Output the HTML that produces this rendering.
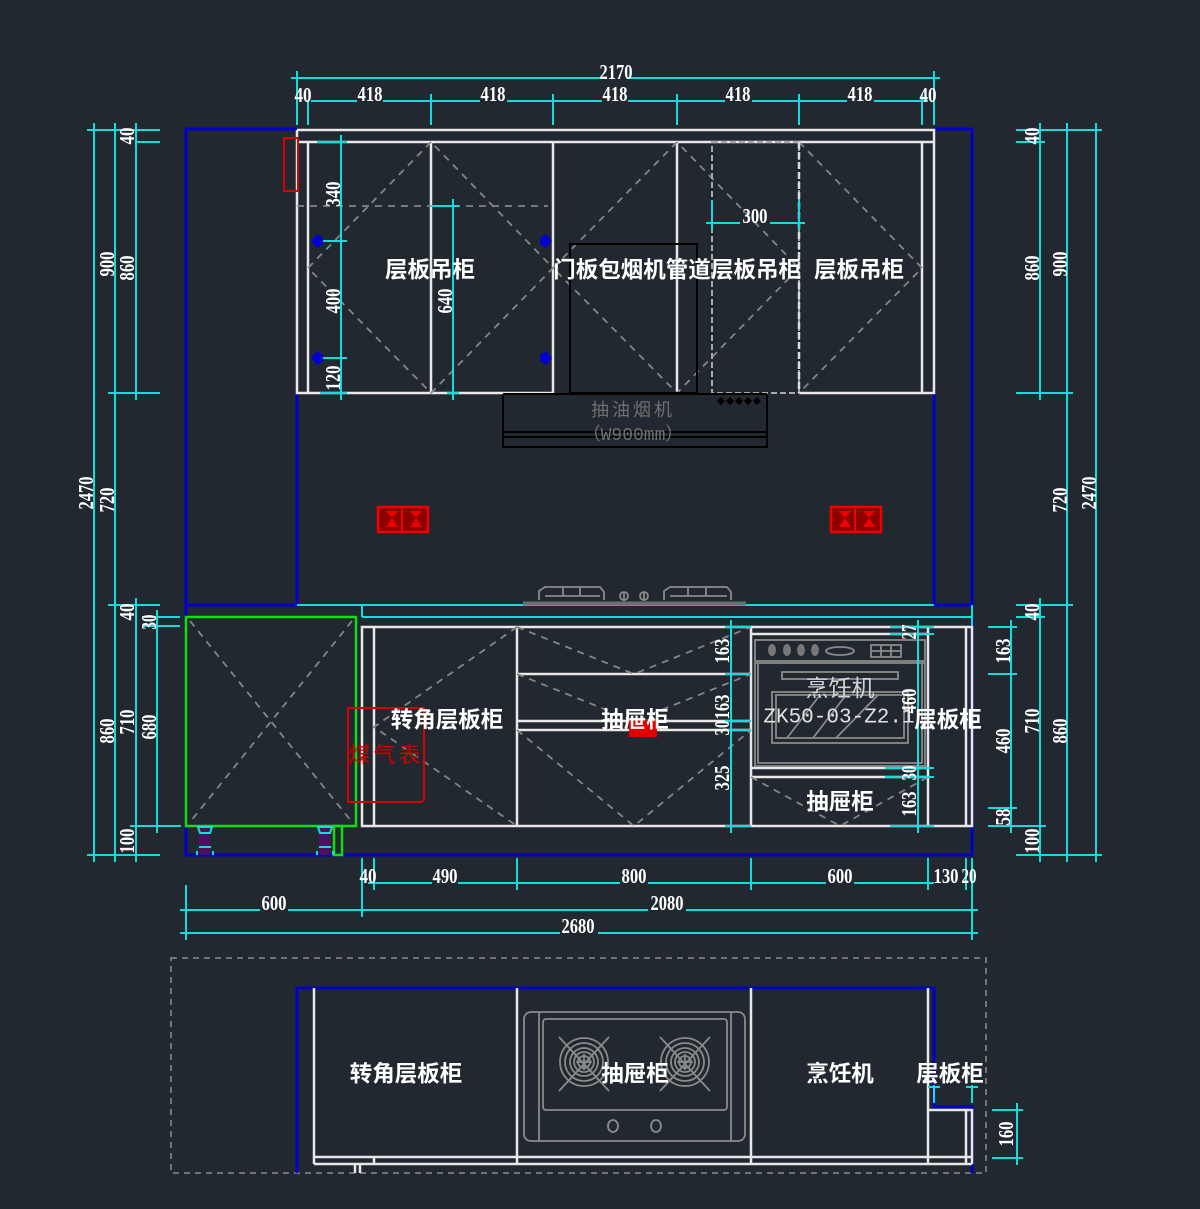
<!DOCTYPE html>
<html><head><meta charset="utf-8"><style>
html,body{margin:0;padding:0;background:#212830}
svg{display:block}
.c{stroke:#12dcdc;stroke-width:2;fill:none}
.w{stroke:#e8e8e8;stroke-width:2.5;fill:none}
.b{stroke:#0000c8;stroke-width:3;fill:none}
.g{stroke:#12dc12;stroke-width:2.5;fill:none}
.r{stroke:#d80000;stroke-width:2;fill:none}
.k{stroke:#000;stroke-width:2;fill:none}
.da{stroke:#858585;stroke-width:1.8;fill:none;stroke-dasharray:7 6}
.gy{stroke:#8a8a8a;stroke-width:1.8;fill:none}
text{text-anchor:middle;dominant-baseline:central}
.d{font:bold 21px "Liberation Serif",serif;fill:#fff}
.t{font:bold 22.5px "Liberation Sans","Noto Sans CJK SC",sans-serif;fill:#fff}
</style></head><body>
<svg width="1200" height="1209" viewBox="0 0 1200 1209" xmlns="http://www.w3.org/2000/svg">
<defs><path id="t" d="M-6 0H6M0-7V7" stroke="#12dcdc" stroke-width="2" fill="none"/></defs>
<rect width="1200" height="1209" fill="#212830"/>

<!-- blue walls -->
<path class="b" d="M297 129H186V605H297V393M934 393V605H972V129H934M186 605V617M186 826V855H972V617"/>

<!-- top dimensions -->
<path class="c" d="M293 78H603M628 78H938M297 72V125M308 100V125M934 72V125M922 100V125M431 96V125M553 96V125M677 96V125M799 96V125
M311 101H357M383 101H480M507 101H602M628 101H725M752 101H847M874 101H920"/>
<use href="#t" x="297" y="78"/><use href="#t" x="934" y="78"/><use href="#t" x="431" y="101"/><use href="#t" x="553" y="101"/><use href="#t" x="677" y="101"/><use href="#t" x="799" y="101"/><use href="#t" x="922" y="101"/>
<text class="d" textLength="33" lengthAdjust="spacingAndGlyphs" x="616" y="72">2170</text><text class="d" textLength="17" lengthAdjust="spacingAndGlyphs" x="303" y="95">40</text><text class="d" textLength="25" lengthAdjust="spacingAndGlyphs" x="370" y="94">418</text><text class="d" textLength="25" lengthAdjust="spacingAndGlyphs" x="493" y="94">418</text><text class="d" textLength="25" lengthAdjust="spacingAndGlyphs" x="615" y="94">418</text><text class="d" textLength="25" lengthAdjust="spacingAndGlyphs" x="738" y="94">418</text><text class="d" textLength="25" lengthAdjust="spacingAndGlyphs" x="860" y="94">418</text><text class="d" textLength="17" lengthAdjust="spacingAndGlyphs" x="928" y="95">40</text>

<!-- upper cabinets -->
<path class="w" d="M297 130H934V393H799M297 142H934M297 130V393H553V142M308 142V393M431 142V393M677 142V393M922 142V393"/>
<path class="da" d="M431 142L308 268L431 393L553 268L431 142M677 142L553 268L677 393L799 268L677 142M799 142L922 268L799 393M297 206H548"/>
<rect x="570" y="244" width="127" height="149" class="k"/>
<path d="M712 142H799V393H712Z" fill="none" stroke="#a8a8a8" stroke-width="2" stroke-dasharray="6 3"/>
<path d="M799 142V393" stroke="#dcdcdc" stroke-width="2.5" stroke-dasharray="7 3"/>
<rect x="284" y="138" width="14" height="53" class="r"/>

<!-- hood -->
<path class="k" d="M503 394V447H767V394M503 394H767M503 432H767M503 437H767"/>
<path d="M717 401l4-4 4 4-4 4zM726 401l4-4 4 4-4 4zM735 401l4-4 4 4-4 4zM744 401l4-4 4 4-4 4zM753 401l4-4 4 4-4 4z" fill="#000"/>
<text x="633" y="410" style="font:18px 'Liberation Sans','Noto Sans CJK SC',sans-serif;fill:#6f6f6f;letter-spacing:3px">抽油烟机</text>
<text x="633" y="436" style="font:18px 'Liberation Mono','Noto Sans CJK SC',monospace;fill:#6f6f6f">（W900mm）</text>

<!-- inner upper dims -->
<path class="c" d="M341 136V400M317 142H347M312 241H347M312 358H347M320 393H347M453 200V400M431 206H458M712 200V228M799 200V228M706 223H740M770 223H805"/>
<use href="#t" x="341" y="142"/><use href="#t" x="341" y="241"/><use href="#t" x="341" y="358"/><use href="#t" x="341" y="393"/><use href="#t" x="453" y="206"/><use href="#t" x="453" y="393"/><use href="#t" x="712" y="223"/><use href="#t" x="799" y="223"/>
<text class="d" textLength="25" lengthAdjust="spacingAndGlyphs" transform="rotate(-90 333 194)" x="333" y="194">340</text>
<text class="d" textLength="25" lengthAdjust="spacingAndGlyphs" transform="rotate(-90 333 301)" x="333" y="301">400</text>
<text class="d" textLength="25" lengthAdjust="spacingAndGlyphs" transform="rotate(-90 333 378)" x="333" y="378">120</text>
<text class="d" textLength="25" lengthAdjust="spacingAndGlyphs" transform="rotate(-90 445 301)" x="445" y="301">640</text>
<text class="d" textLength="25" lengthAdjust="spacingAndGlyphs" x="755" y="216">300</text>
<g fill="#0000d0"><path d="M311 241L317 234L323 238V244L317 248Z"/><path d="M311 358L317 351L323 355V361L317 365Z"/><path d="M552 241L546 234L540 238V244L546 248Z"/><path d="M552 358L546 351L540 355V361L546 365Z"/></g>

<text class="t" x="430" y="270">层板吊柜</text>
<text class="t" x="632" y="270">门板包烟机管道</text>
<text class="t" x="756" y="270">层板吊柜</text>
<text class="t" x="859" y="270">层板吊柜</text>

<!-- sockets -->
<g>
<rect x="378" y="507" width="50" height="25" fill="#8c0000" stroke="#f00000" stroke-width="2.5"/>
<path d="M402 507V532" stroke="#f00000" stroke-width="2"/>
<path d="M386 511H398L392 518L398 527H386L392 518ZM410 511H422L416 518L422 527H410L416 518Z" fill="#ee0000"/>
<rect x="831" y="507" width="50" height="25" fill="#8c0000" stroke="#f00000" stroke-width="2.5"/>
<path d="M855 507V532" stroke="#f00000" stroke-width="2"/>
<path d="M839 511H851L845 518L851 527H839L845 518ZM863 511H875L869 518L875 527H863L869 518Z" fill="#ee0000"/>
</g>

<!-- cyan counter -->
<path class="c" d="M297 605H934M362 617H972M362 605V617M972 605V626"/>
<!-- stove front view -->
<path d="M523 603.5H746" stroke="#6e6e6e" stroke-width="4"/>
<path class="gy" d="M539 600V591L545 587H600L604 592V600M545 596H600M563 596V588M580 596V588M664 600V591L670 587H727L731 592V600M670 596H727M688 596V588M706 596V588M624 601V592M644 601V592"/>
<circle cx="624" cy="596" r="4" class="gy"/><circle cx="644" cy="596" r="4" class="gy"/>

<!-- left dims -->
<path class="c" d="M94 124V858M115 124V858M136 126V393M136 605V858M157 612V832M87 130H160M136 142H160M108 393H160M108 605H160M142 617H180M142 626H180M130 826H181M87 855H160"/>
<use href="#t" x="94" y="130"/><use href="#t" x="115" y="130"/><use href="#t" x="136" y="130"/><use href="#t" x="115" y="393"/><use href="#t" x="136" y="393"/><use href="#t" x="115" y="605"/><use href="#t" x="136" y="605"/><use href="#t" x="157" y="617"/><use href="#t" x="157" y="626"/><use href="#t" x="136" y="826"/><use href="#t" x="157" y="826"/><use href="#t" x="94" y="855"/><use href="#t" x="115" y="855"/><use href="#t" x="136" y="855"/>
<text class="d" textLength="33" lengthAdjust="spacingAndGlyphs" transform="rotate(-90 86 493)" x="86" y="493">2470</text>
<text class="d" textLength="25" lengthAdjust="spacingAndGlyphs" transform="rotate(-90 107 264)" x="107" y="264">900</text>
<text class="d" textLength="25" lengthAdjust="spacingAndGlyphs" transform="rotate(-90 127 268)" x="127" y="268">860</text>
<text class="d" textLength="17" lengthAdjust="spacingAndGlyphs" transform="rotate(-90 127 136)" x="127" y="136">40</text>
<text class="d" textLength="25" lengthAdjust="spacingAndGlyphs" transform="rotate(-90 107 500)" x="107" y="500">720</text>
<text class="d" textLength="17" lengthAdjust="spacingAndGlyphs" transform="rotate(-90 127 612)" x="127" y="612">40</text>
<text class="d" textLength="15" lengthAdjust="spacingAndGlyphs" transform="rotate(-90 149 622)" x="149" y="622">30</text>
<text class="d" textLength="25" lengthAdjust="spacingAndGlyphs" transform="rotate(-90 107 731)" x="107" y="731">860</text>
<text class="d" textLength="25" lengthAdjust="spacingAndGlyphs" transform="rotate(-90 127 722)" x="127" y="722">710</text>
<text class="d" textLength="25" lengthAdjust="spacingAndGlyphs" transform="rotate(-90 149 727)" x="149" y="727">680</text>
<text class="d" textLength="25" lengthAdjust="spacingAndGlyphs" transform="rotate(-90 127 841)" x="127" y="841">100</text>

<!-- right dims -->
<path class="c" d="M1040 126V393M1040 605V858M1067 124V858M1096 124V858M1011 621V832M1016 130H1100M1016 142H1045M1016 393H1072M1016 605H1072M1016 617H1045M988 627H1016M988 674H1016M988 808H1016M988 826H1045M1016 855H1100"/>
<use href="#t" x="1040" y="130"/><use href="#t" x="1067" y="130"/><use href="#t" x="1096" y="130"/><use href="#t" x="1040" y="393"/><use href="#t" x="1067" y="393"/><use href="#t" x="1067" y="605"/><use href="#t" x="1040" y="605"/><use href="#t" x="1011" y="627"/><use href="#t" x="1011" y="674"/><use href="#t" x="1011" y="808"/><use href="#t" x="1011" y="826"/><use href="#t" x="1040" y="826"/><use href="#t" x="1040" y="855"/><use href="#t" x="1067" y="855"/><use href="#t" x="1096" y="855"/>
<text class="d" textLength="17" lengthAdjust="spacingAndGlyphs" transform="rotate(-90 1032 136)" x="1032" y="136">40</text>
<text class="d" textLength="25" lengthAdjust="spacingAndGlyphs" transform="rotate(-90 1032 268)" x="1032" y="268">860</text>
<text class="d" textLength="25" lengthAdjust="spacingAndGlyphs" transform="rotate(-90 1060 264)" x="1060" y="264">900</text>
<text class="d" textLength="25" lengthAdjust="spacingAndGlyphs" transform="rotate(-90 1060 500)" x="1060" y="500">720</text>
<text class="d" textLength="33" lengthAdjust="spacingAndGlyphs" transform="rotate(-90 1089 493)" x="1089" y="493">2470</text>
<text class="d" textLength="17" lengthAdjust="spacingAndGlyphs" transform="rotate(-90 1032 612)" x="1032" y="612">40</text>
<text class="d" textLength="25" lengthAdjust="spacingAndGlyphs" transform="rotate(-90 1003 651)" x="1003" y="651">163</text>
<text class="d" textLength="25" lengthAdjust="spacingAndGlyphs" transform="rotate(-90 1003 741)" x="1003" y="741">460</text>
<text class="d" textLength="17" lengthAdjust="spacingAndGlyphs" transform="rotate(-90 1003 817)" x="1003" y="817">58</text>
<text class="d" textLength="25" lengthAdjust="spacingAndGlyphs" transform="rotate(-90 1032 721)" x="1032" y="721">710</text>
<text class="d" textLength="25" lengthAdjust="spacingAndGlyphs" transform="rotate(-90 1032 841)" x="1032" y="841">100</text>
<text class="d" textLength="25" lengthAdjust="spacingAndGlyphs" transform="rotate(-90 1060 731)" x="1060" y="731">860</text>

<!-- green cabinet -->
<rect x="186" y="617" width="170" height="209" class="g"/>
<rect x="334" y="826" width="8" height="29" class="g" stroke-width="2"/>
<path class="da" d="M190 621L352 822M352 621L190 822"/>
<!-- feet -->
<g>
<rect x="199" y="828" width="11" height="27" fill="#4b1060"/><path class="c" d="M197 827H213M198 827L200 833H210L212 827M199 847H211M197 855V851M213 855V851"/>
<rect x="319" y="828" width="11" height="27" fill="#4b1060"/><path class="c" d="M317 827H333M318 827L320 833H330L332 827M319 847H331M317 855V851M333 855V851"/>
</g>

<!-- lower cabinets -->
<path class="w" d="M362 627H972V826H362ZM374 627V826M517 627V826M751 627V826M928 627V826M966 627V826M517 674H751M517 721H751M517 730H751M751 634H928M751 768H928M751 777H928"/>
<path class="da" d="M517 627L374 727L517 826M517 627L634 674L751 627M517 674L634 721L751 674M517 730L634 826L751 730M751 777L840 826L928 777"/>

<!-- oven -->
<g class="gy">
<path d="M755 640H925V661H755ZM755 663H925V766H755ZM758 663V763H922V663"/>
<rect x="782" y="672" width="116" height="7"/>
<rect x="772" y="692" width="136" height="51"/>
<rect x="776" y="695" width="128" height="43"/>
<path d="M787 738L820 695M813 738L846 695M836 738L878 695"/>
<rect x="871" y="645" width="30" height="12"/><path d="M881 645V657M891 645V657M871 651H901"/>
<ellipse cx="840" cy="651" rx="14" ry="4"/>
</g>
<g fill="#777"><ellipse cx="772" cy="650" rx="4" ry="6"/><ellipse cx="787" cy="650" rx="4" ry="6"/><ellipse cx="801" cy="650" rx="4" ry="6"/><ellipse cx="815" cy="650" rx="4" ry="6"/></g>
<text x="840" y="688" style="font:23px 'Liberation Sans','Noto Sans CJK SC',sans-serif;fill:#d4d4d4">烹饪机</text>
<text x="839" y="718" style="font:21px 'Liberation Mono',monospace;fill:#e2e2e2">ZK50-03-Z2.1</text>

<!-- red bits -->
<rect x="629" y="720" width="28" height="17" fill="#e00000"/>
<path class="r" d="M348 708H424V798Q424 802 420 802H348Z"/>
<text x="386" y="755" style="font:22px 'Liberation Sans','Noto Sans CJK SC',sans-serif;fill:#c80000;letter-spacing:3px">煤气表</text>

<!-- middle dims in lower -->
<path class="c" d="M731 621V832M725 627H751M725 674H751M725 721H751M725 730H751M725 826H751M918 621V832M890 627H934M890 634H934M885 768H934M885 777H934M890 826H934"/>
<use href="#t" x="731" y="627"/><use href="#t" x="731" y="674"/><use href="#t" x="731" y="730"/><use href="#t" x="731" y="826"/><use href="#t" x="918" y="627"/><use href="#t" x="918" y="768"/><use href="#t" x="918" y="826"/>
<text class="d" textLength="25" lengthAdjust="spacingAndGlyphs" transform="rotate(-90 722 651)" x="722" y="651">163</text>
<text class="d" textLength="25" lengthAdjust="spacingAndGlyphs" transform="rotate(-90 722 707)" x="722" y="707">163</text>
<text class="d" textLength="15" lengthAdjust="spacingAndGlyphs" transform="rotate(-90 722 728)" x="722" y="728">30</text>
<text class="d" textLength="25" lengthAdjust="spacingAndGlyphs" transform="rotate(-90 722 778)" x="722" y="778">325</text>
<text class="d" textLength="15" lengthAdjust="spacingAndGlyphs" transform="rotate(-90 909 632)" x="909" y="632">27</text>
<text class="d" textLength="25" lengthAdjust="spacingAndGlyphs" transform="rotate(-90 909 701)" x="909" y="701">460</text>
<text class="d" textLength="15" lengthAdjust="spacingAndGlyphs" transform="rotate(-90 909 773)" x="909" y="773">30</text>
<text class="d" textLength="25" lengthAdjust="spacingAndGlyphs" transform="rotate(-90 909 804)" x="909" y="804">163</text>

<text class="t" x="447" y="720">转角层板柜</text>
<text class="t" x="635" y="720">抽屉柜</text>
<text class="t" x="948" y="720">层板柜</text>
<text class="t" x="840" y="802">抽屉柜</text>

<!-- bottom dims -->
<path class="c" d="M362 858V890M374 858V890M517 858V890M751 858V890M928 858V890M966 858V890M972 858V938M374 883H432M458 883H620M648 883H826M854 883H932M186 885V938M362 885V917M180 910H260M288 910H648M686 910H978M180 933H560M598 933H978"/>
<use href="#t" x="374" y="883"/><use href="#t" x="517" y="883"/><use href="#t" x="751" y="883"/><use href="#t" x="928" y="883"/><use href="#t" x="186" y="910"/><use href="#t" x="362" y="910"/><use href="#t" x="972" y="910"/><use href="#t" x="186" y="933"/><use href="#t" x="972" y="933"/>
<text class="d" textLength="17" lengthAdjust="spacingAndGlyphs" x="368" y="876">40</text><text class="d" textLength="25" lengthAdjust="spacingAndGlyphs" x="445" y="876">490</text><text class="d" textLength="25" lengthAdjust="spacingAndGlyphs" x="634" y="876">800</text><text class="d" textLength="25" lengthAdjust="spacingAndGlyphs" x="840" y="876">600</text><text class="d" textLength="25" lengthAdjust="spacingAndGlyphs" x="946" y="876">130</text><text class="d" textLength="15" lengthAdjust="spacingAndGlyphs" x="969" y="876">20</text>
<text class="d" textLength="25" lengthAdjust="spacingAndGlyphs" x="274" y="903">600</text><text class="d" textLength="33" lengthAdjust="spacingAndGlyphs" x="667" y="903">2080</text><text class="d" textLength="33" lengthAdjust="spacingAndGlyphs" x="578" y="926">2680</text>

<!-- plan view -->
<rect x="171" y="958" width="815" height="215" fill="none" stroke="#7d7d7d" stroke-width="1.8" stroke-dasharray="6 5"/>
<path class="b" d="M297 1173V988H934V1107H972V1173"/>
<path class="w" d="M314 988V1164M517 988V1164M751 988V1164M928 988V1164M314 1157H972M314 1164H972M928 1110H972V1164M966 1110V1164M374 1157V1164M355 1164V1173M360 1164V1173"/>
<g class="gy">
<rect x="524" y="1012" width="221" height="129" rx="7"/>
<path d="M539 1012V1141M731 1012V1141"/>
<rect x="543" y="1019" width="184" height="91" rx="3"/>
<circle cx="584" cy="1062" r="24"/><circle cx="584" cy="1062" r="19"/><circle cx="584" cy="1062" r="14"/><circle cx="584" cy="1062" r="10"/><circle cx="584" cy="1062" r="6"/>
<circle cx="685" cy="1062" r="24"/><circle cx="685" cy="1062" r="19"/><circle cx="685" cy="1062" r="14"/><circle cx="685" cy="1062" r="10"/><circle cx="685" cy="1062" r="6"/>
<path d="M559 1037L609 1091M609 1037L559 1091M660 1037L710 1091M710 1037L660 1091M576 1062H592M584 1054V1070M677 1062H693M685 1054V1070"/>
<ellipse cx="613" cy="1126" rx="5" ry="6"/><ellipse cx="656" cy="1126" rx="5" ry="6"/>
</g>
<path class="c" d="M934 1085V1103M972 1085V1103M992 1110H1020M992 1158H1020M1017 1104V1164M928 1087H940M966 1087H978" stroke-width="1.5"/>
<use href="#t" x="1017" y="1110"/><use href="#t" x="1017" y="1158"/>
<text class="d" textLength="25" lengthAdjust="spacingAndGlyphs" transform="rotate(-90 1006 1134)" x="1006" y="1134">160</text>
<text class="t" x="406" y="1074">转角层板柜</text>
<text class="t" x="635" y="1074">抽屉柜</text>
<text class="t" x="840" y="1074">烹饪机</text>
<text class="t" x="950" y="1074">层板柜</text>
</svg>
</body></html>
